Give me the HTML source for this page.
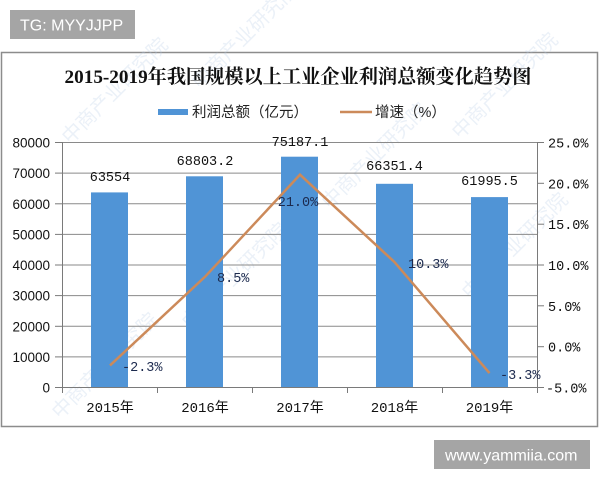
<!DOCTYPE html>
<html><head><meta charset="utf-8"><style>
html,body{margin:0;padding:0;background:#fff;}
body{width:600px;height:480px;overflow:hidden;position:relative;}
svg{position:absolute;left:0;top:0;}
</style></head><body>
<svg width="600" height="480" viewBox="0 0 600 480" xmlns="http://www.w3.org/2000/svg">
<rect x="0" y="0" width="600" height="480" fill="#fff"/>
<!-- TG box -->
<rect x="10" y="10" width="125" height="29" fill="#a5a5a5"/>
<text x="20" y="30.5" font-family="Liberation Sans, sans-serif" font-size="16" fill="#fff">TG: MYYJJPP</text>
<!-- chart frame -->
<rect x="1.5" y="52.5" width="596" height="374" fill="#fff" stroke="#8c8c8c" stroke-width="1.5"/>
<!-- watermarks -->
<g font-family="Liberation Sans, Noto Sans CJK SC, sans-serif" font-size="20" fill="#b8cbe6" opacity="0.28">
<text transform="translate(70,145) rotate(-45)">中商产业研究院</text>
<text transform="translate(190,330) rotate(-45)">中商产业研究院</text>
<text transform="translate(330,210) rotate(-45)">中商产业研究院</text>
<text transform="translate(470,300) rotate(-45)">中商产业研究院</text>
<text transform="translate(60,420) rotate(-45)">中商产业研究院</text>
<text transform="translate(460,140) rotate(-45)">中商产业研究院</text>
<text transform="translate(200,90) rotate(-45)">中商产业研究院</text>
</g>
<!-- title -->
<text x="298" y="83" text-anchor="middle" font-family="Liberation Serif, Noto Serif CJK SC, serif" font-weight="bold" font-size="19.2" fill="#111">2015-2019年我国规模以上工业企业利润总额变化趋势图</text>
<!-- legend -->
<rect x="158" y="109" width="30" height="6" fill="#5094d6"/>
<text x="192" y="117" font-family="Liberation Sans, Noto Sans CJK SC, sans-serif" font-size="14.5" fill="#222">利润总额（亿元）</text>
<line x1="340" y1="112" x2="372" y2="112" stroke="#cc8a5a" stroke-width="2.5"/>
<text x="375" y="117" font-family="Liberation Sans, Noto Sans CJK SC, sans-serif" font-size="14.5" fill="#222">增速（%）</text>
<!-- gridlines -->
<g stroke="#8a8a8a" stroke-width="1">
<line x1="62" y1="142.5" x2="537" y2="142.5"/>
<line x1="62" y1="173.1" x2="537" y2="173.1"/>
<line x1="62" y1="203.8" x2="537" y2="203.8"/>
<line x1="62" y1="234.4" x2="537" y2="234.4"/>
<line x1="62" y1="265" x2="537" y2="265"/>
<line x1="62" y1="295.6" x2="537" y2="295.6"/>
<line x1="62" y1="326.3" x2="537" y2="326.3"/>
<line x1="62" y1="356.9" x2="537" y2="356.9"/>
</g>
<!-- bars -->
<g fill="#5094d6">
<rect x="91" y="192.4" width="37" height="194.6"/>
<rect x="186" y="176.3" width="37" height="210.7"/>
<rect x="281" y="156.7" width="37" height="230.3"/>
<rect x="376" y="183.8" width="37" height="203.2"/>
<rect x="471" y="197.1" width="37" height="189.9"/>
</g>
<!-- axes -->
<g stroke="#7a7a7a" stroke-width="1">
<line x1="62.5" y1="142" x2="62.5" y2="387"/>
<line x1="537.5" y1="142" x2="537.5" y2="387"/>
<line x1="62" y1="387.5" x2="537" y2="387.5"/>
<line x1="55" y1="142.5" x2="62" y2="142.5"/>
<line x1="55" y1="173.1" x2="62" y2="173.1"/>
<line x1="55" y1="203.8" x2="62" y2="203.8"/>
<line x1="55" y1="234.4" x2="62" y2="234.4"/>
<line x1="55" y1="265" x2="62" y2="265"/>
<line x1="55" y1="295.6" x2="62" y2="295.6"/>
<line x1="55" y1="326.3" x2="62" y2="326.3"/>
<line x1="55" y1="356.9" x2="62" y2="356.9"/>
<line x1="55" y1="387.5" x2="62" y2="387.5"/>
<line x1="537" y1="142.5" x2="544" y2="142.5"/>
<line x1="537" y1="183.3" x2="544" y2="183.3"/>
<line x1="537" y1="224.2" x2="544" y2="224.2"/>
<line x1="537" y1="265" x2="544" y2="265"/>
<line x1="537" y1="305.8" x2="544" y2="305.8"/>
<line x1="537" y1="346.7" x2="544" y2="346.7"/>
<line x1="537" y1="387.5" x2="544" y2="387.5"/>
<line x1="62.5" y1="387" x2="62.5" y2="393"/>
<line x1="157.5" y1="387" x2="157.5" y2="393"/>
<line x1="252.5" y1="387" x2="252.5" y2="393"/>
<line x1="347.5" y1="387" x2="347.5" y2="393"/>
<line x1="442.5" y1="387" x2="442.5" y2="393"/>
<line x1="537.5" y1="387" x2="537.5" y2="393"/>
</g>
<!-- line series -->
<polyline points="110,365.4 205,276.8 300,174.7 394.5,262.1 489.5,373.1" fill="none" stroke="#cc8a5a" stroke-width="2.5" stroke-linejoin="miter"/>
<!-- left axis labels -->
<g font-family="Liberation Sans, sans-serif" font-size="13.5" fill="#111" text-anchor="end">
<text x="50" y="147.5">80000</text>
<text x="50" y="178.1">70000</text>
<text x="50" y="208.8">60000</text>
<text x="50" y="239.4">50000</text>
<text x="50" y="270">40000</text>
<text x="50" y="300.6">30000</text>
<text x="50" y="331.3">20000</text>
<text x="50" y="361.9">10000</text>
<text x="50" y="392.5">0</text>
</g>
<!-- right axis labels -->
<g font-family="Liberation Mono, monospace" font-size="13.5" fill="#111">
<text x="548" y="147.5">25.0%</text>
<text x="548" y="188.3">20.0%</text>
<text x="548" y="229.2">15.0%</text>
<text x="548" y="270">10.0%</text>
<text x="548" y="310.8">5.0%</text>
<text x="548" y="351.7">0.0%</text>
<text x="546" y="392.5">-5.0%</text>
</g>
<!-- x labels -->
<g font-family="Liberation Mono, Noto Sans CJK SC, monospace" font-size="14" fill="#111" text-anchor="middle">
<text x="110" y="412">2015年</text>
<text x="205" y="412">2016年</text>
<text x="300" y="412">2017年</text>
<text x="394.5" y="412">2018年</text>
<text x="489.5" y="412">2019年</text>
</g>
<!-- bar data labels -->
<g font-family="Liberation Mono, monospace" font-size="13.5" fill="#111" text-anchor="middle">
<text x="110" y="181">63554</text>
<text x="205" y="165">68803.2</text>
<text x="300" y="146">75187.1</text>
<text x="394.5" y="170">66351.4</text>
<text x="489.5" y="185">61995.5</text>
</g>
<!-- line data labels -->
<g font-family="Liberation Mono, monospace" font-size="13.5" fill="#1c2a4e">
<text x="122" y="371">-2.3%</text>
<text x="217" y="282">8.5%</text>
<text x="298" y="206" text-anchor="middle">21.0%</text>
<text x="408" y="268">10.3%</text>
<text x="500" y="379">-3.3%</text>
</g>
<!-- bottom watermark box -->
<rect x="434" y="440" width="156" height="29" fill="#a5a5a5"/>
<text x="445" y="460.5" font-family="Liberation Sans, sans-serif" font-size="16" fill="#fff">www.yammiia.com</text>
</svg>
</body></html>
